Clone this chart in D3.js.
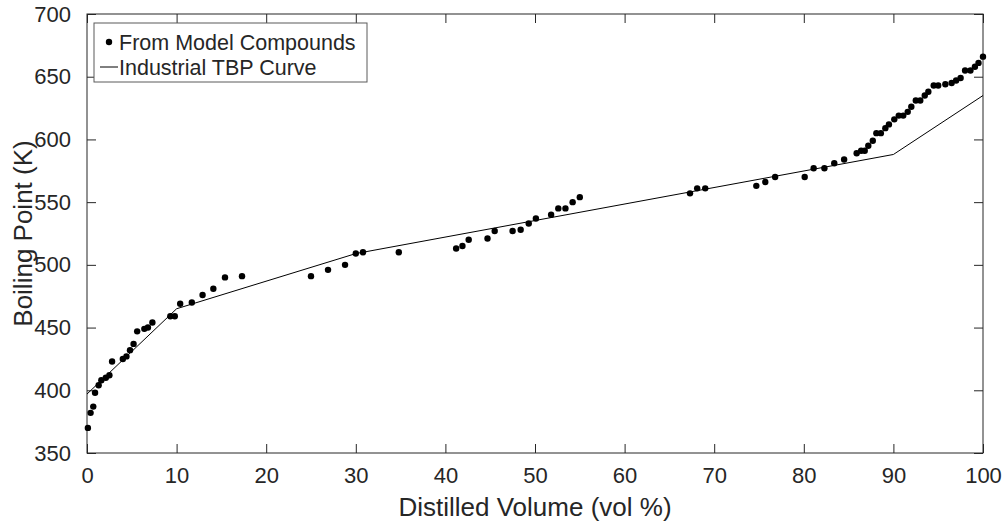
<!DOCTYPE html>
<html>
<head>
<meta charset="utf-8">
<script src="https://cdn.jsdelivr.net/npm/d3@7"></script>
<style>
  body { margin: 0; background: #fff; }
  svg text { font-family: "Liberation Sans", Arial, Helvetica, sans-serif; fill: #262626; }
</style>
</head>
<body>
<div id="chart"></div>
<script>
// Model compound points (distilled vol %, boiling point K)
const modelVol = [0.1, 0.4, 0.7, 0.9, 1.3, 1.6, 2.1, 2.5, 2.8, 4.0, 4.4, 4.8, 5.2, 5.6, 6.4, 6.8, 7.3, 9.3, 9.8,
    10.4, 11.7, 12.9, 14.1, 15.4, 17.3, 25.0, 26.9, 28.8, 30.0, 30.8, 34.8, 41.2, 41.9, 42.6, 44.7, 45.5, 47.5,
    48.4, 49.3, 50.1, 51.8, 52.6, 53.4, 54.2, 55.0, 67.3, 68.1, 69.0, 74.7, 75.7, 76.8, 80.1, 81.1, 82.3, 83.4,
    84.5, 85.9, 86.4, 86.8, 87.2, 87.7, 88.1, 88.6, 89.1, 89.5, 90.1, 90.6, 91.1, 91.6, 92.0, 92.5, 93.0, 93.5,
    93.9, 94.5, 95.0, 95.8, 96.5, 97.0, 97.5, 98.0, 98.6, 99.1, 99.5, 100.0];
const modelBP = [370, 382, 387, 398, 404, 408, 410, 412, 423, 425, 427, 432, 437, 447, 449, 450, 454, 459, 459,
    469, 470, 476, 481, 490, 491, 491, 496, 500, 509, 510, 510, 513, 515, 520, 521, 527, 527,
    528, 533, 537, 540, 545, 545, 550, 554, 557, 561, 561, 563, 566, 570, 570, 577, 577, 581,
    584, 589, 591, 591, 595, 599, 605, 605, 609, 612, 616, 619, 619, 622, 626, 631, 631, 635,
    638, 643, 643, 644, 645, 647, 649, 655, 655, 658, 661, 666];

// Industrial TBP curve
const tbpVol = [0, 10, 30, 90, 100];
const tbpBP = [397, 465, 509, 588, 635];

const xTicks = [0, 10, 20, 30, 40, 50, 60, 70, 80, 90, 100];
const yTicks = [350, 400, 450, 500, 550, 600, 650, 700];

const width = 1008, height = 527;
const margin = {top: 14, right: 25, bottom: 74, left: 87};
const iw = width - margin.left - margin.right;
const ih = height - margin.top - margin.bottom;
const ink = "#262626";

const svg = d3.select("#chart").append("svg")
    .attr("width", width)
    .attr("height", height);

const g = svg.append("g")
    .attr("transform", `translate(${margin.left},${margin.top})`);

const x = d3.scaleLinear().domain([0, 100]).range([0, iw]);
const y = d3.scaleLinear().domain([350, 700]).range([ih, 0]);

// axes (ticks inside, box style)
function styleAxis(sel) {
    sel.select(".domain").remove();
    sel.selectAll(".tick line").attr("stroke", ink);
    sel.selectAll(".tick text").style("font-size", "22px").attr("fill", ink);
}

g.append("g")
    .attr("transform", `translate(0,${ih})`)
    .call(d3.axisBottom(x).tickValues(xTicks).tickSizeInner(-9).tickSizeOuter(0).tickPadding(14))
    .call(styleAxis);

g.append("g")
    .call(d3.axisTop(x).tickValues(xTicks).tickSizeInner(-9).tickSizeOuter(0).tickFormat(""))
    .call(styleAxis);

g.append("g")
    .call(d3.axisLeft(y).tickValues(yTicks).tickSizeInner(-9).tickSizeOuter(0).tickPadding(16))
    .call(styleAxis);

g.append("g")
    .attr("transform", `translate(${iw},0)`)
    .call(d3.axisRight(y).tickValues(yTicks).tickSizeInner(-9).tickSizeOuter(0).tickFormat(""))
    .call(styleAxis);

g.append("rect")
    .attr("width", iw)
    .attr("height", ih)
    .attr("fill", "none")
    .attr("stroke", ink)
    .attr("stroke-width", 1);

// TBP line
const line = d3.line()
    .x((d, i) => x(tbpVol[i]))
    .y(d => y(d));

g.append("path")
    .datum(tbpBP)
    .attr("d", line)
    .attr("fill", "none")
    .attr("stroke", "#000")
    .attr("stroke-width", 1);

// model compound dots
g.selectAll(".dot")
    .data(modelBP)
    .enter().append("circle")
    .attr("class", "dot")
    .attr("cx", (d, i) => x(modelVol[i]))
    .attr("cy", d => y(d))
    .attr("r", 3.2)
    .attr("fill", "#000");

// axis labels
svg.append("text")
    .attr("x", margin.left + iw / 2)
    .attr("y", 516)
    .attr("text-anchor", "middle")
    .style("font-size", "26px")
    .text("Distilled Volume (vol %)");

svg.append("text")
    .attr("transform", `translate(32,${margin.top + ih / 2}) rotate(-90)`)
    .attr("text-anchor", "middle")
    .style("font-size", "26px")
    .text("Boiling Point (K)");

// legend
const legend = svg.append("g")
    .attr("transform", "translate(94,23)");

legend.append("rect")
    .attr("width", 273)
    .attr("height", 59)
    .attr("fill", "#fff")
    .attr("stroke", "#5a5a5a")
    .attr("stroke-width", 1);

legend.append("circle")
    .attr("cx", 15)
    .attr("cy", 19)
    .attr("r", 3.2)
    .attr("fill", "#000");

legend.append("text")
    .attr("x", 25)
    .attr("y", 19)
    .attr("dy", "0.35em")
    .style("font-size", "21.5px")
    .text("From Model Compounds");

legend.append("line")
    .attr("x1", 6)
    .attr("x2", 24)
    .attr("y1", 44)
    .attr("y2", 44)
    .attr("stroke", "#000")
    .attr("stroke-width", 1);

legend.append("text")
    .attr("x", 25)
    .attr("y", 44)
    .attr("dy", "0.35em")
    .style("font-size", "21.5px")
    .text("Industrial TBP Curve");
</script>
</body>
</html>
